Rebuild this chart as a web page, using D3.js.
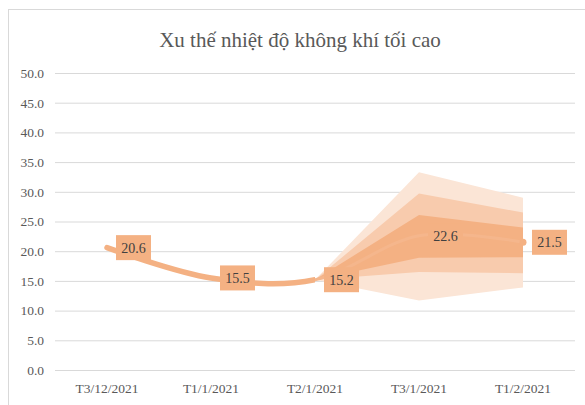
<!DOCTYPE html>
<html>
<head>
<meta charset="utf-8">
<script src="https://cdn.jsdelivr.net/npm/d3@7"></script>
<style>
  body { margin: 0; background: #fff; }
  svg { display: block; }
</style>
</head>
<body>
<div id="chart"></div>
<script>
// data
var categories = ["T3/12/2021", "T1/1/2021", "T2/1/2021", "T3/1/2021", "T1/2/2021"];
var actual = [20.6, 15.5, 15.2, null, null];
var forecast = [null, null, 15.2, 22.6, 21.5];
var outerUpper = [null, null, 15.2, 33.3, 29.0];
var outerLower = [null, null, 15.2, 11.7, 13.9];
var midUpper = [null, null, 15.2, 29.7, 26.5];
var midLower = [null, null, 15.2, 16.5, 16.3];
var innerUpper = [null, null, 15.2, 26.1, 24.0];
var innerLower = [null, null, 15.2, 18.9, 19.0];
var yTicks = [0, 5, 10, 15, 20, 25, 30, 35, 40, 45, 50];
var title = "Xu thế nhiệt độ không khí tối cao";

var width = 585, height = 405;
var font = "'Liberation Serif', 'Times New Roman', serif";

var svg = d3.select("#chart").append("svg")
    .attr("width", width)
    .attr("height", height);

// chart border
svg.append("rect")
    .attr("x", 8.5)
    .attr("y", 9.5)
    .attr("width", 600)
    .attr("height", 420)
    .attr("fill", "#fff")
    .attr("stroke", "#d9d9d9");

svg.append("text")
    .attr("x", 300)
    .attr("y", 47)
    .attr("text-anchor", "middle")
    .attr("font-family", font)
    .attr("font-size", 21)
    .attr("fill", "#595959")
    .text(title);

var x = d3.scaleBand().domain(categories).range([55, 575]);
var y = d3.scaleLinear().domain([0, 50]).range([370, 73]);
function cx(i) { return x(categories[i]) + x.bandwidth() / 2; }

// y axis + gridlines
var yAxis = svg.append("g")
    .attr("transform", "translate(55,0)")
    .call(d3.axisLeft(y).tickValues(yTicks).tickFormat(d3.format(".1f")).tickSize(-520).tickPadding(11));
yAxis.select(".domain").remove();
yAxis.selectAll("line").attr("stroke", "#d9d9d9").attr("stroke-width", 1);
yAxis.selectAll("text")
    .attr("font-family", font)
    .attr("font-size", 13.5)
    .attr("fill", "#595959");

// x axis
var xAxis = svg.append("g")
    .attr("transform", "translate(0,370)")
    .call(d3.axisBottom(x).tickSize(0).tickPadding(13));
xAxis.select(".domain").remove();
xAxis.selectAll("text")
    .attr("font-family", font)
    .attr("font-size", 13.5)
    .attr("fill", "#595959");

// forecast bands
function band(up, lo) {
  var pts = [];
  for (i = 0; i < categories.length; i++) {
    if (up[i] != null) pts.push({i: i, u: up[i], l: lo[i]});
  }
  return d3.area()
    .x(function(d) { return cx(d.i); })
    .y0(function(d) { return y(d.l); })
    .y1(function(d) { return y(d.u); })(pts);
}
svg.append("path").attr("d", band(outerUpper, outerLower)).attr("fill", "#fbe5d6");
svg.append("path").attr("d", band(midUpper, midLower)).attr("fill", "#f8cbad");
svg.append("path").attr("d", band(innerUpper, innerLower)).attr("fill", "#f4b183");

// one smoothed series: actual, then forecast
var allPts = [];
for (i = 0; i < categories.length; i++) {
  var val = actual[i] != null ? actual[i] : forecast[i];
  allPts.push([cx(i), y(val)]);
}
var smooth = d3.line().curve(d3.curveCatmullRom.alpha(0));

var defs = svg.append("defs");
defs.append("clipPath").attr("id", "clipAct")
  .append("rect").attr("x", 0).attr("y", 0).attr("width", cx(2)).attr("height", height);
defs.append("clipPath").attr("id", "clipFc")
  .append("rect").attr("x", cx(2)).attr("y", 0).attr("width", width).attr("height", height);

// forecast part (thin, nearly the inner band colour)
svg.append("path")
    .attr("d", smooth(allPts))
    .attr("clip-path", "url(#clipFc)")
    .attr("fill", "none")
    .attr("stroke", "#f5b68c")
    .attr("stroke-width", 3);
svg.append("circle")
    .attr("cx", cx(4))
    .attr("cy", y(forecast[4]))
    .attr("r", 3.5)
    .attr("fill", "#f4b183");

// actual part
svg.append("path")
    .attr("d", smooth(allPts))
    .attr("clip-path", "url(#clipAct)")
    .attr("fill", "none")
    .attr("stroke", "#f4b183")
    .attr("stroke-width", 5.5)
    .attr("stroke-linecap", "round");

// data labels
var labels = [];
for (i = 0; i < categories.length; i++) {
  var v = actual[i] != null ? actual[i] : forecast[i];
  labels.push({i: i, v: v});
}
var lab = svg.selectAll(".lab").data(labels).enter().append("g")
    .attr("class", "lab")
    .attr("transform", function(d) { return "translate(" + (cx(d.i) + 9) + "," + y(d.v) + ")"; });
lab.append("rect")
    .attr("x", 0)
    .attr("y", -12.5)
    .attr("width", 35)
    .attr("height", 25)
    .attr("fill", "#f4b183");
lab.append("text")
    .attr("x", 17.5)
    .attr("y", 5)
    .attr("text-anchor", "middle")
    .attr("font-family", font)
    .attr("font-size", 14)
    .attr("fill", "#404040")
    .text(function(d) { return d3.format(".1f")(d.v); });
</script>
</body>
</html>
